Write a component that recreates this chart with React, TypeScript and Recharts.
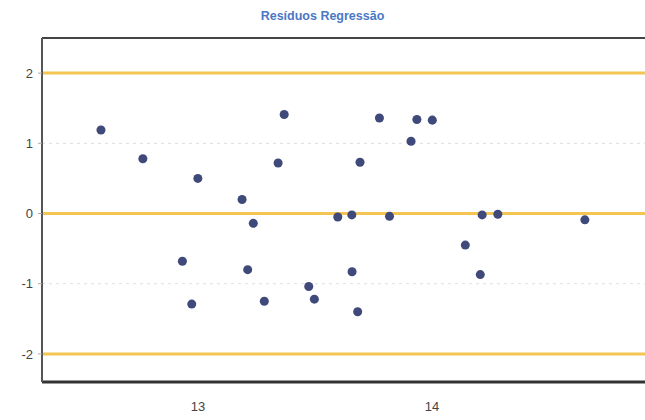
import { ScatterChart, Scatter, XAxis, YAxis, ReferenceLine } from 'recharts'

// valores (x = previsto, y = resíduo)
const xValues = [
  12.585, 12.764, 12.999, 13.188, 13.236, 13.342, 13.368, 13.775, 13.935, 14.001,
  13.91, 13.692, 13.597, 13.657, 13.818, 14.214, 14.281, 14.653, 14.142, 14.206,
  12.933, 12.973, 13.212, 13.283, 13.473, 13.497, 13.658, 13.682,
]
const residuals = [
  1.19, 0.78, 0.5, 0.2, -0.14, 0.72, 1.41, 1.36, 1.34, 1.33,
  1.03, 0.73, -0.05, -0.02, -0.04, -0.02, -0.01, -0.09, -0.45, -0.87,
  -0.68, -1.29, -0.8, -1.25, -1.04, -1.22, -0.83, -1.4,
]
const xTicks = [13, 14]
const yTicks = [-2, -1, 0, 1, 2]
const limitLines = [2, 0, -2]
const gridLines = [1, -1]

const points = xValues.map((x, i) => ({ x, y: residuals[i] }))

const tickStyle = { fontSize: 13, fill: '#444', fontFamily: 'Liberation Sans, Arial, sans-serif' }

export default function App() {
  return (
    <div style={{ position: 'relative', width: 645, height: 420, overflow: 'hidden', background: '#fff' }}>
      <style>{`body{margin:0}`}</style>
      <div
        style={{
          position: 'absolute',
          top: 9,
          left: 0,
          width: 645,
          textAlign: 'center',
          fontFamily: 'Liberation Sans, Arial, sans-serif',
          fontSize: 12.5,
          fontWeight: 'bold',
          color: '#4a78c4',
        }}
      >
        Resíduos Regressão
      </div>
      <ScatterChart width={680} height={420} margin={{ top: 38, right: 20, left: 0, bottom: 0 }}>
        <XAxis
          type="number"
          dataKey="x"
          domain={[12.333, 14.974]}
          ticks={xTicks}
          tick={tickStyle}
          tickLine={false}
          tickMargin={14}
          axisLine={{ stroke: '#333', strokeWidth: 3 }}
          height={38}
          allowDataOverflow
        />
        <YAxis
          type="number"
          dataKey="y"
          domain={[-2.4, 2.5]}
          ticks={yTicks}
          tick={tickStyle}
          tickSize={4}
          tickMargin={5}
          tickLine={{ stroke: '#aaa' }}
          axisLine={{ stroke: '#555', strokeWidth: 2 }}
          width={42}
          allowDataOverflow
        />
        {gridLines.map((v) => (
          <ReferenceLine key={v} y={v} stroke="#ddd" strokeDasharray="3 4" />
        ))}
        {limitLines.map((v) => (
          <ReferenceLine key={v} y={v} stroke="#f4c552" strokeWidth={3} />
        ))}
        <ReferenceLine y={2.5} stroke="#444" strokeWidth={2} />
        <Scatter data={points} fill="#3f4a7a" isAnimationActive={false} />
      </ScatterChart>
    </div>
  )
}
